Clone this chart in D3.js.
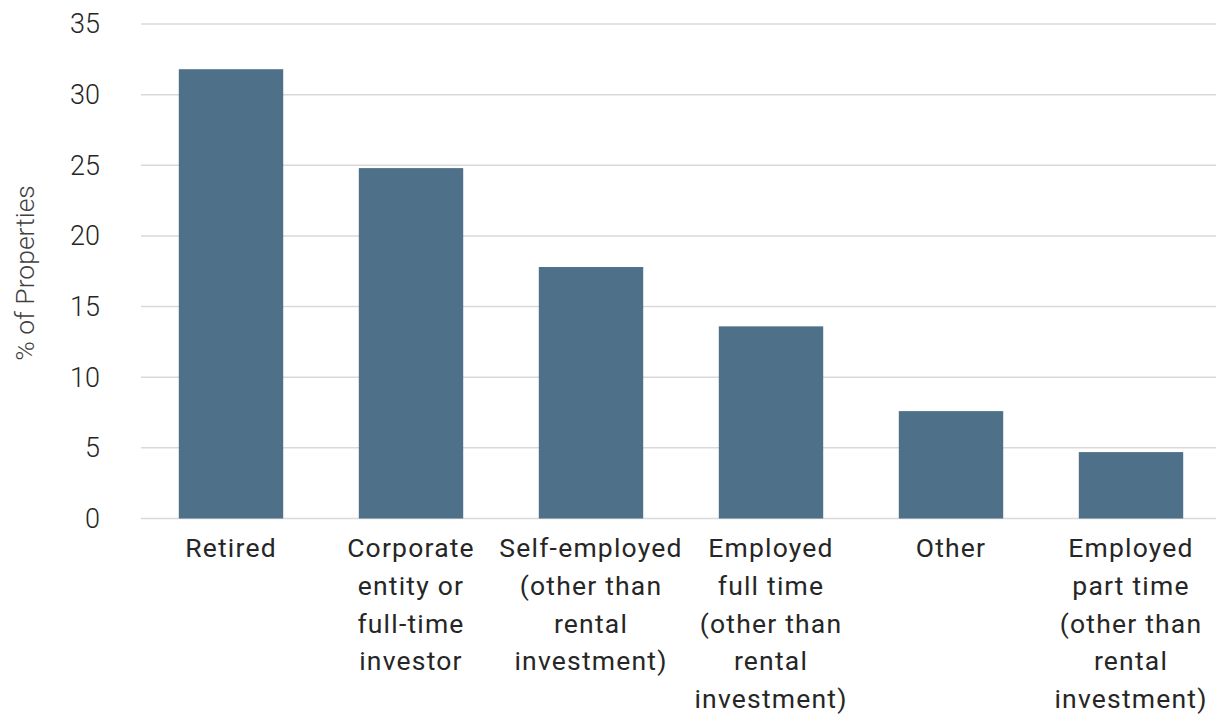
<!DOCTYPE html>
<html>
<head>
<meta charset="utf-8">
<script src="https://cdn.jsdelivr.net/npm/d3@7"></script>
<style>
  html, body { margin: 0; padding: 0; background: #ffffff; }
  svg { display: block; }
</style>
</head>
<body>
<svg id="chart" width="1216" height="721"></svg>
<script>
// Occupation of property owners, share of properties (%)
const categories = [
  "Retired",
  "Corporate entity or full-time investor",
  "Self-employed (other than rental investment)",
  "Employed full time (other than rental investment)",
  "Other",
  "Employed part time (other than rental investment)"
];
const categoryLines = [
  ["Retired"],
  ["Corporate", "entity or", "full-time", "investor"],
  ["Self-employed", "(other than", "rental", "investment)"],
  ["Employed", "full time", "(other than", "rental", "investment)"],
  ["Other"],
  ["Employed", "part time", "(other than", "rental", "investment)"]
];
const values = [31.8, 24.8, 17.8, 13.6, 7.6, 4.7];
const yTicks = [0, 5, 10, 15, 20, 25, 30, 35];
const yTitle = "% of Properties";

const svg = d3.select("#chart");

const x = d3.scaleBand()
  .domain(categories)
  .range([141, 1221])
  .paddingInner(0.42)
  .paddingOuter(0.21);

const y = d3.scaleLinear()
  .domain([0, 35])
  .range([518.5, 24]);

// gridlines
svg.append("g")
  .selectAll("line")
  .data(yTicks)
  .join("line")
  .attr("x1", 141)
  .attr("x2", 1216)
  .attr("y1", d => y(d))
  .attr("y2", d => y(d))
  .attr("stroke", "#d9d9d9")
  .attr("stroke-width", 1.5);

// y tick labels
svg.append("g")
  .selectAll("text")
  .data(yTicks)
  .join("text")
  .attr("x", 100)
  .attr("y", d => y(d))
  .attr("dy", "0.35em")
  .attr("text-anchor", "end")
  .attr("font-family", "Roboto, sans-serif")
  .attr("font-weight", 300)
  .attr("font-size", 27)
  .attr("fill", "#262626")
  .text(d => d);

// bars
svg.append("g")
  .selectAll("rect")
  .data(values)
  .join("rect")
  .attr("x", (d, i) => x(categories[i]))
  .attr("width", x.bandwidth())
  .attr("y", d => y(d))
  .attr("height", d => y(0) - y(d))
  .attr("fill", "#4e7189");

// category labels
const labels = svg.append("g")
  .selectAll("text")
  .data(categories)
  .join("text")
  .attr("text-anchor", "middle")
  .attr("font-family", "Roboto, sans-serif")
  .attr("font-size", 26.5)
  .attr("letter-spacing", "1.2px")
  .attr("fill", "#262626")
  .attr("transform", d => `translate(${x(d) + x.bandwidth() / 2},557)`);

labels.selectAll("tspan")
  .data((d, i) => categoryLines[i])
  .join("tspan")
  .attr("x", 0)
  .attr("y", (d, j) => j * 37.8)
  .text(d => d);

// y axis title
svg.append("text")
  .attr("transform", "translate(34,273) rotate(-90)")
  .attr("text-anchor", "middle")
  .attr("font-family", "Roboto, sans-serif")
  .attr("font-weight", 300)
  .attr("font-size", 26.5)
  .attr("fill", "#404040")
  .text(yTitle);
</script>
</body>
</html>
